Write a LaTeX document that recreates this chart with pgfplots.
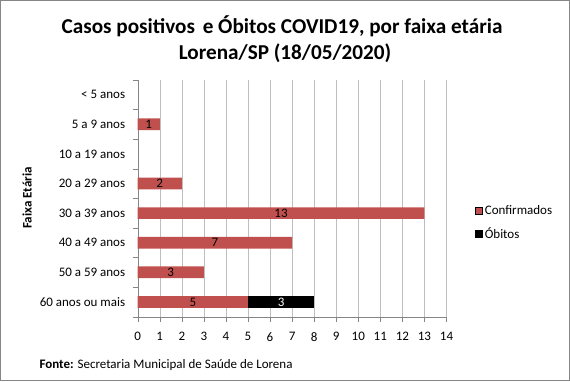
\documentclass[border=0pt]{standalone}
\usepackage{pgfplots}
\pgfplotsset{compat=1.18}
\usepackage{pgfplotstable}
\usepackage{fontspec}
\setmainfont{Carlito}
\definecolor{conf}{RGB}{192,80,77}
\definecolor{gridc}{RGB}{190,190,190}
\definecolor{axc}{RGB}{134,134,134}
\definecolor{framec}{RGB}{134,134,134}

\pgfplotstableread{
idx conf ob
0 0 0
1 1 0
2 0 0
3 2 0
4 13 0
5 7 0
6 3 0
7 5 3
}\data

\begin{document}
\begin{tikzpicture}[x=1pt,y=1pt]
\useasboundingbox (0,0) rectangle (570,381);
\draw[framec, line width=1pt] (0.5,0.5) rectangle (569.5,380.5);
\node[font=\bfseries\fontsize{21.2}{25}\selectfont, anchor=base, inner sep=0pt] at (282,347.5) {Casos positivos\hspace{3pt} e Óbitos COVID19, por faixa etária};
\node[font=\bfseries\fontsize{21.2}{25}\selectfont, anchor=base, inner sep=0pt] at (285,321.7) {Lorena/SP (18/05/2020)};
\node[rotate=90, font=\bfseries\fontsize{13}{15}\selectfont] at (27,183) {Faixa Etária};
\node[anchor=west, font=\fontsize{13}{15}\selectfont] at (36,16) {\textbf{Fonte:} Secretaria Municipal de Saúde de Lorena};
\begin{axis}[
  at={(137.7pt,64.3pt)}, anchor=south west,
  scale only axis, width=308.8pt, height=236.8pt,
  xbar stacked, bar width=11.7pt,
  xmin=0, xmax=14, xtick={0,...,14},
  ymin=-0.5, ymax=7.5, y dir=reverse,
  ytick={0,...,7},
  yticklabels={{< 5 anos},{5 a 9 anos},{10 a 19 anos},{20 a 29 anos},{30 a 39 anos},{40 a 49 anos},{50 a 59 anos},{60 anos ou mais}},
  minor ytick={-0.5,0.5,...,7.5},
  axis lines*=left,
  axis line style={draw=axc, -},
  tick align=outside,
  major tick length=5pt, minor tick length=5pt,
  tick style={draw=axc},
  every major y tick/.append style={draw=none},
  xmajorgrids, major grid style={draw=gridc},
  tick label style={font=\fontsize{13}{15}\selectfont},
  yticklabel style={xshift=-4pt},
  xticklabel style={yshift=-7pt},
  /pgf/number format/assume math mode=true,
  legend style={at={(1.093,0.48)}, anchor=north west, draw=none, fill=none,
    font=\fontsize{13}{15}\selectfont, row sep=8pt, inner sep=0pt},
  legend cell align=left,
  legend image code/.code={\draw[#1] (0pt,-3.5pt) rectangle (7pt,3.5pt);},
  point meta=explicit,
  nodes near coords={\pgfmathfloatifflags{\pgfplotspointmeta}{0}{}{\pgfmathprintnumber{\pgfplotspointmeta}}},
]
\addplot[fill=conf, draw=none,
  every node near coord/.append style={anchor=center, font=\fontsize{13}{15}\selectfont, text=black}]
  table[x=conf, y=idx, meta=conf] {\data};
\addplot[fill=black, draw=none,
  every node near coord/.append style={anchor=center, font=\fontsize{13}{15}\selectfont, text=white}]
  table[x=ob, y=idx, meta=ob] {\data};
\legend{Confirmados, Óbitos}
\end{axis}
\end{tikzpicture}
\end{document}
